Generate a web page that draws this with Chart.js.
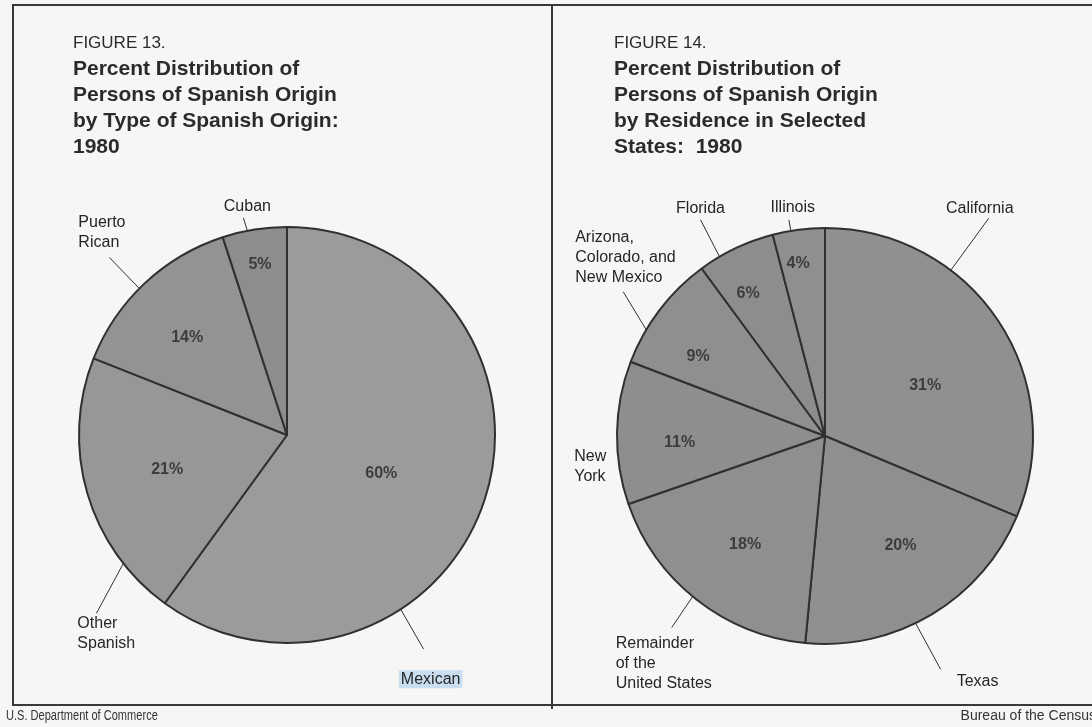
<!DOCTYPE html>
<html>
<head>
<meta charset="utf-8">
<title>Spanish Origin 1980</title>
<script src="https://cdn.jsdelivr.net/npm/chart.js@4.4.1/dist/chart.umd.min.js"></script>
<style>
  html, body { margin: 0; padding: 0; }
  body {
    width: 1092px; height: 727px; overflow: hidden; position: relative;
    background: #f6f6f4; font-family: "Liberation Sans", Arial, sans-serif; color: #2b2b2b;
  }
  canvas { position: absolute; left: 0; top: 0; }
  .rule { position: absolute; background: #3a3a3a; }
  .title { position: absolute; top: 31px; z-index: 2; }
  .title .fig { font-size: 17px; line-height: 24px; }
  .title .head { font-size: 21px; font-weight: bold; line-height: 26px; }
  .foot { position: absolute; top: 707px; font-size: 14px; color: #333; white-space: nowrap; }
</style>
</head>
<body>
<div class="rule" style="left:12px; top:4px; width:1080px; height:2px;"></div>
<div class="rule" style="left:12px; top:4px; width:2px; height:702px;"></div>
<div class="rule" style="left:12px; top:704px; width:1080px; height:2px;"></div>
<div class="rule" style="left:551px; top:4px; width:2px; height:705px;"></div>

<div class="title" style="left:73px;">
  <div class="fig">FIGURE 13.</div>
  <div class="head">Percent Distribution of<br>Persons of Spanish Origin<br>by Type of Spanish Origin:<br>1980</div>
</div>
<div class="title" style="left:614px;">
  <div class="fig">FIGURE 14.</div>
  <div class="head">Percent Distribution of<br>Persons of Spanish Origin<br>by Residence in Selected<br>States:&nbsp; 1980</div>
</div>

<canvas id="origin_pie" width="1092" height="727"></canvas>
<canvas id="state_pie" width="1092" height="727"></canvas>

<div class="foot" style="left:6px; transform: scaleX(0.79); transform-origin: left center;">U.S. Department of Commerce</div>
<div class="foot" style="right:-4px;">Bureau of the Census</div>

<script>
// Figure 13: type of Spanish origin (percent)
const originLabels = ['Mexican', ['Other', 'Spanish'], ['Puerto', 'Rican'], 'Cuban'];
const originShares = [60, 21, 14, 5];

// Figure 14: residence in selected states (percent)
const stateLabels = ['California', 'Texas', ['Remainder', 'of the', 'United States'], ['New', 'York'],
    ['Arizona,', 'Colorado, and', 'New Mexico'], 'Florida', 'Illinois'];
const stateShares = [31, 20, 18, 11, 9, 6, 4];

// placement of the labels around each pie:
// inner = [fraction along slice, fraction of radius] for the percent text
// outer = where the leader leaves the rim (fraction along slice), leader vector, text offset
const originInner = [[0.52, 0.49], [0.5, 0.6], [0.45, 0.67], [0.5, 0.83]];
const originOuter = [
    { t: 0.68, dx: 23, dy: 40, tx: 7, ty: 30, align: 'center', mark: '#c9def0' },
    { t: 0.21, dx: -27, dy: 50, tx: -19, ty: 10, align: 'left' },
    { t: 0.46, dx: -30, dy: -31, tx: -31, ty: -35, align: 'left' },
    { t: 0.39, dx: -4, dy: -13, tx: 4, ty: -11, align: 'center' }
];
const stateInner = [[0.56, 0.54], [0.45, 0.64], [0.47, 0.65], [0.41, 0.7], [0.34, 0.72], [0.37, 0.78], [0.39, 0.84]];
const stateOuter = [
    { t: 0.33, dx: 38, dy: -52, tx: -9, ty: -10, align: 'center' },
    { t: 0.57, dx: 25, dy: 46, tx: 37, ty: 12, align: 'center' },
    { t: 0.52, dx: -21, dy: 31, tx: -56, ty: 16, align: 'left' },
    { t: 0.27, dx: 0, dy: 0, tx: -45, ty: -9, align: 'left' },
    { t: 0.30, dx: -23, dy: -38, tx: -48, ty: -54, align: 'left' },
    { t: 0.27, dx: -19, dy: -37, tx: 0, ty: -11, align: 'center' },
    { t: 0.35, dx: -2, dy: -11, tx: 4, ty: -12, align: 'center' }
];

const ink = '#303030';

// draws the percent inside every slice and the outside name with its leader line
const calloutPlugin = {
    id: 'callouts',
    afterDatasetsDraw(chart, args, opts) {
        const ctx = chart.ctx;
        const arcs = chart.getDatasetMeta(0).data;
        const values = chart.data.datasets[0].data;
        const labels = chart.data.labels;
        ctx.save();
        arcs.forEach((arc, i) => {
            const p = arc.getProps(['x', 'y', 'startAngle', 'endAngle', 'outerRadius'], true);
            const span = p.endAngle - p.startAngle;

            // percent value
            const [ti, ri] = opts.inner[i];
            const ai = p.startAngle + ti * span;
            ctx.font = 'bold 16px "Liberation Sans", Arial, sans-serif';
            ctx.fillStyle = '#3c3c3c';
            ctx.textAlign = 'center';
            ctx.textBaseline = 'middle';
            ctx.fillText(values[i] + '%', p.x + Math.cos(ai) * p.outerRadius * ri, p.y + Math.sin(ai) * p.outerRadius * ri);

            // leader line from the rim
            const o = opts.outer[i];
            const ao = p.startAngle + o.t * span;
            const ex = p.x + Math.cos(ao) * p.outerRadius;
            const ey = p.y + Math.sin(ao) * p.outerRadius;
            if (o.dx || o.dy) {
                ctx.strokeStyle = ink;
                ctx.lineWidth = 1;
                ctx.beginPath();
                ctx.moveTo(ex, ey);
                ctx.lineTo(ex + o.dx, ey + o.dy);
                ctx.stroke();
            }

            // name text
            const lines = [].concat(labels[i]);
            const lx = ex + o.dx + o.tx;
            const ly = ey + o.dy + o.ty;
            ctx.font = '16px "Liberation Sans", Arial, sans-serif';
            ctx.textAlign = o.align;
            if (o.mark) {
                const w = ctx.measureText(lines[0]).width;
                ctx.fillStyle = o.mark;
                ctx.fillRect(lx - w / 2 - 2, ly - 9, w + 4, 18);
            }
            ctx.fillStyle = '#262626';
            lines.forEach((line, k) => ctx.fillText(line, lx, ly + k * 20));
        });
        ctx.restore();
    }
};

function makePie(id, labels, values, colors, pad, inner, outer) {
    return new Chart(document.getElementById(id), {
        type: 'pie',
        data: {
            labels: labels,
            datasets: [{
                data: values,
                backgroundColor: colors,
                borderColor: ink,
                borderWidth: 2,
                borderAlign: 'center'
            }]
        },
        options: {
            responsive: false,
            animation: false,
            events: [],
            layout: { padding: pad },
            plugins: {
                legend: { display: false },
                tooltip: { enabled: false },
                callouts: { inner: inner, outer: outer }
            }
        },
        plugins: [calloutPlugin]
    });
}

makePie('origin_pie', originLabels, originShares,
    ['#9b9b9b', '#979797', '#939393', '#8d8d8d'],
    { left: 78, top: 226, right: 596, bottom: 83 },
    originInner, originOuter);

makePie('state_pie', stateLabels, stateShares,
    ['#909090', '#8f8f8f', '#8f8f8f', '#8e8e8e', '#8f8f8f', '#8d8d8d', '#8f8f8f'],
    { left: 616, top: 227, right: 58, bottom: 82 },
    stateInner, stateOuter);
</script>
</body>
</html>
